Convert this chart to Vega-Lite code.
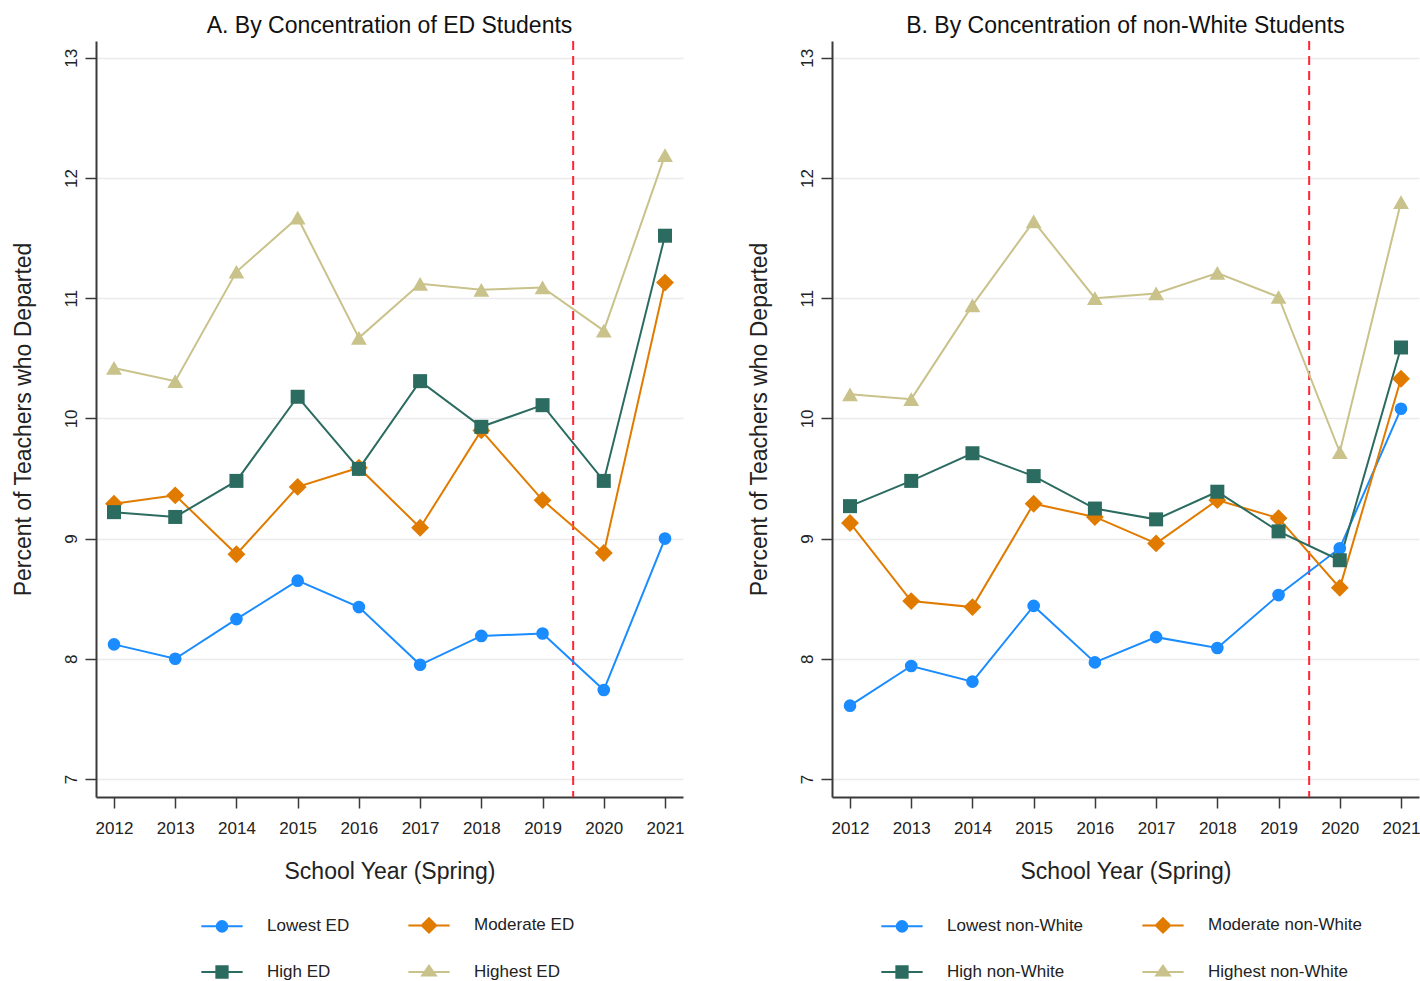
{
  "$schema": "https://vega.github.io/schema/vega-lite/v6.json",
  "background": "white",
  "padding": {"left": 12, "top": 15, "right": 0, "bottom": 0},
  "bounds": "flush",
  "spacing": 149,
  "resolve": {"scale": {"color": "independent", "x": "independent", "y": "independent"}, "legend": {"color": "independent"}},
  "config": {
    "view": {"stroke": null},
    "font": "Liberation Sans",
    "axis": {"domainColor": "#3a3a3a", "domainWidth": 2, "tickColor": "#3a3a3a", "tickWidth": 1.5, "tickSize": 11, "labelFont": "Liberation Sans", "labelFontSize": 17, "labelColor": "#222222", "titleFont": "Liberation Sans", "titleFontSize": 23, "titleFontWeight": "normal", "titleColor": "#222222", "gridColor": "#ebebeb", "gridWidth": 1.5},
    "title": {"font": "Liberation Sans", "fontSize": 23, "fontWeight": "normal", "color": "#111111", "offset": 2, "anchor": "middle"},
    "legend": {"labelFont": "Liberation Sans", "labelFontSize": 17, "labelColor": "#222222"}
  },
  "hconcat": [
    {
      "width": 587,
      "height": 756,
      "title": {"text": "A. By Concentration of ED Students"},
      "data": {"values": [
        {"group": "Lowest ED", "year": 2012, "pct": 8.12},
        {"group": "Lowest ED", "year": 2013, "pct": 8.00},
        {"group": "Lowest ED", "year": 2014, "pct": 8.33},
        {"group": "Lowest ED", "year": 2015, "pct": 8.65},
        {"group": "Lowest ED", "year": 2016, "pct": 8.43},
        {"group": "Lowest ED", "year": 2017, "pct": 7.95},
        {"group": "Lowest ED", "year": 2018, "pct": 8.19},
        {"group": "Lowest ED", "year": 2019, "pct": 8.21},
        {"group": "Lowest ED", "year": 2020, "pct": 7.74},
        {"group": "Lowest ED", "year": 2021, "pct": 9.00},
        {"group": "Moderate ED", "year": 2012, "pct": 9.29},
        {"group": "Moderate ED", "year": 2013, "pct": 9.36},
        {"group": "Moderate ED", "year": 2014, "pct": 8.87},
        {"group": "Moderate ED", "year": 2015, "pct": 9.43},
        {"group": "Moderate ED", "year": 2016, "pct": 9.59},
        {"group": "Moderate ED", "year": 2017, "pct": 9.09},
        {"group": "Moderate ED", "year": 2018, "pct": 9.90},
        {"group": "Moderate ED", "year": 2019, "pct": 9.32},
        {"group": "Moderate ED", "year": 2020, "pct": 8.88},
        {"group": "Moderate ED", "year": 2021, "pct": 11.13},
        {"group": "High ED", "year": 2012, "pct": 9.22},
        {"group": "High ED", "year": 2013, "pct": 9.18},
        {"group": "High ED", "year": 2014, "pct": 9.48},
        {"group": "High ED", "year": 2015, "pct": 10.18},
        {"group": "High ED", "year": 2016, "pct": 9.58},
        {"group": "High ED", "year": 2017, "pct": 10.31},
        {"group": "High ED", "year": 2018, "pct": 9.93},
        {"group": "High ED", "year": 2019, "pct": 10.11},
        {"group": "High ED", "year": 2020, "pct": 9.48},
        {"group": "High ED", "year": 2021, "pct": 11.52},
        {"group": "Highest ED", "year": 2012, "pct": 10.42},
        {"group": "Highest ED", "year": 2013, "pct": 10.31},
        {"group": "Highest ED", "year": 2014, "pct": 11.22},
        {"group": "Highest ED", "year": 2015, "pct": 11.67},
        {"group": "Highest ED", "year": 2016, "pct": 10.67},
        {"group": "Highest ED", "year": 2017, "pct": 11.12},
        {"group": "Highest ED", "year": 2018, "pct": 11.07},
        {"group": "Highest ED", "year": 2019, "pct": 11.09},
        {"group": "Highest ED", "year": 2020, "pct": 10.73},
        {"group": "Highest ED", "year": 2021, "pct": 12.19}
      ]},
      "encoding": {
        "x": {"field": "year", "type": "quantitative", "scale": {"domain": [2011.706, 2021.294], "nice": false, "zero": false}, "axis": {"values": [2012, 2013, 2014, 2015, 2016, 2017, 2018, 2019, 2020, 2021], "format": "d", "grid": false, "title": "School Year (Spring)", "labelPadding": 12, "titlePadding": 24, "labelFlush": false}},
        "y": {"field": "pct", "type": "quantitative", "scale": {"domain": [6.85, 13.14], "nice": false, "zero": false}, "axis": {"values": [7, 8, 9, 10, 11, 12, 13], "format": "d", "grid": true, "title": "Percent of Teachers who Departed", "labelAngle": 270, "labelAlign": "center", "labelBaseline": "bottom", "labelPadding": 5, "titlePadding": 27}}
      },
      "layer": [
        {
          "data": {"values": [{"cut": 2019.5}]},
          "mark": {"type": "rule", "color": "#ff2533", "strokeWidth": 2, "strokeDash": [9, 6]},
          "encoding": {"x": {"field": "cut", "type": "quantitative"}, "y": null}
        },
        {
          "mark": {"type": "line", "strokeWidth": 2},
          "encoding": {
            "color": {"field": "group", "type": "nominal", "scale": {"domain": ["Lowest ED", "Moderate ED", "High ED", "Highest ED"], "range": ["#1a8cff", "#e07b00", "#2b6b60", "#c9c28a"]},
              "legend": {"orient": "none", "legendX": 113, "legendY": 871, "direction": "horizontal", "columns": 2, "title": null, "symbolSize": 576, "labelOffset": 32, "rowPadding": 22, "columnPadding": 54, "symbolStrokeWidth": 2, "padding": 0,
                "encode": {"symbols": {"update": {
                  "shape": {"signal": "indexof(datum.value,'Lowest')===0 ? 'M-1.72,0H1.72M-0.44,0A0.44,0.44 0 1,1 0.44,0A0.44,0.44 0 1,1 -0.44,0Z' : indexof(datum.value,'Moderate')===0 ? 'M-1.72,0H1.72M0,-0.6L0.6,0L0,0.6L-0.6,0Z' : indexof(datum.value,'Highest')===0 ? 'M-1.72,0H1.72M0,-0.52L0.57,0.3L-0.57,0.3Z' : 'M-1.72,0H1.72M-0.47,-0.47H0.47V0.47H-0.47Z'"},
                  "fill": {"signal": "indexof(datum.value,'Lowest')===0 ? '#1a8cff' : indexof(datum.value,'Moderate')===0 ? '#e07b00' : indexof(datum.value,'Highest')===0 ? '#c9c28a' : '#2b6b60'"},
                  "stroke": {"signal": "indexof(datum.value,'Lowest')===0 ? '#1a8cff' : indexof(datum.value,'Moderate')===0 ? '#e07b00' : indexof(datum.value,'Highest')===0 ? '#c9c28a' : '#2b6b60'"},
                  "opacity": {"value": 1},
                  "strokeWidth": {"value": 2},
                  "size": {"value": 576}
                }}}
              }
            }
          }
        },
        {
          "transform": [{"filter": "datum.group === 'Lowest ED'"}],
          "mark": {"type": "point", "filled": true, "opacity": 1, "shape": "circle", "size": 160, "color": "#1a8cff"}
        },
        {
          "transform": [{"filter": "datum.group === 'Moderate ED'"}],
          "mark": {"type": "point", "filled": true, "opacity": 1, "shape": "diamond", "size": 320, "color": "#e07b00"}
        },
        {
          "transform": [{"filter": "datum.group === 'High ED'"}],
          "mark": {"type": "point", "filled": true, "opacity": 1, "shape": "square", "size": 196, "color": "#2b6b60"}
        },
        {
          "transform": [{"filter": "datum.group === 'Highest ED'"}],
          "mark": {"type": "point", "filled": true, "opacity": 1, "shape": "triangle-up", "size": 250, "color": "#c9c28a"}
        }
      ]
    },
    {
      "width": 587,
      "height": 756,
      "title": {"text": "B. By Concentration of non-White Students"},
      "data": {"values": [
        {"group": "Lowest non-White", "year": 2012, "pct": 7.61},
        {"group": "Lowest non-White", "year": 2013, "pct": 7.94},
        {"group": "Lowest non-White", "year": 2014, "pct": 7.81},
        {"group": "Lowest non-White", "year": 2015, "pct": 8.44},
        {"group": "Lowest non-White", "year": 2016, "pct": 7.97},
        {"group": "Lowest non-White", "year": 2017, "pct": 8.18},
        {"group": "Lowest non-White", "year": 2018, "pct": 8.09},
        {"group": "Lowest non-White", "year": 2019, "pct": 8.53},
        {"group": "Lowest non-White", "year": 2020, "pct": 8.92},
        {"group": "Lowest non-White", "year": 2021, "pct": 10.08},
        {"group": "Moderate non-White", "year": 2012, "pct": 9.13},
        {"group": "Moderate non-White", "year": 2013, "pct": 8.48},
        {"group": "Moderate non-White", "year": 2014, "pct": 8.43},
        {"group": "Moderate non-White", "year": 2015, "pct": 9.29},
        {"group": "Moderate non-White", "year": 2016, "pct": 9.18},
        {"group": "Moderate non-White", "year": 2017, "pct": 8.96},
        {"group": "Moderate non-White", "year": 2018, "pct": 9.32},
        {"group": "Moderate non-White", "year": 2019, "pct": 9.17},
        {"group": "Moderate non-White", "year": 2020, "pct": 8.59},
        {"group": "Moderate non-White", "year": 2021, "pct": 10.33},
        {"group": "High non-White", "year": 2012, "pct": 9.27},
        {"group": "High non-White", "year": 2013, "pct": 9.48},
        {"group": "High non-White", "year": 2014, "pct": 9.71},
        {"group": "High non-White", "year": 2015, "pct": 9.52},
        {"group": "High non-White", "year": 2016, "pct": 9.25},
        {"group": "High non-White", "year": 2017, "pct": 9.16},
        {"group": "High non-White", "year": 2018, "pct": 9.39},
        {"group": "High non-White", "year": 2019, "pct": 9.06},
        {"group": "High non-White", "year": 2020, "pct": 8.82},
        {"group": "High non-White", "year": 2021, "pct": 10.59},
        {"group": "Highest non-White", "year": 2012, "pct": 10.20},
        {"group": "Highest non-White", "year": 2013, "pct": 10.16},
        {"group": "Highest non-White", "year": 2014, "pct": 10.94},
        {"group": "Highest non-White", "year": 2015, "pct": 11.64},
        {"group": "Highest non-White", "year": 2016, "pct": 11.00},
        {"group": "Highest non-White", "year": 2017, "pct": 11.04},
        {"group": "Highest non-White", "year": 2018, "pct": 11.21},
        {"group": "Highest non-White", "year": 2019, "pct": 11.01},
        {"group": "Highest non-White", "year": 2020, "pct": 9.72},
        {"group": "Highest non-White", "year": 2021, "pct": 11.80}
      ]},
      "encoding": {
        "x": {"field": "year", "type": "quantitative", "scale": {"domain": [2011.706, 2021.294], "nice": false, "zero": false}, "axis": {"values": [2012, 2013, 2014, 2015, 2016, 2017, 2018, 2019, 2020, 2021], "format": "d", "grid": false, "title": "School Year (Spring)", "labelPadding": 12, "titlePadding": 24, "labelFlush": false}},
        "y": {"field": "pct", "type": "quantitative", "scale": {"domain": [6.85, 13.14], "nice": false, "zero": false}, "axis": {"values": [7, 8, 9, 10, 11, 12, 13], "format": "d", "grid": true, "title": "Percent of Teachers who Departed", "labelAngle": 270, "labelAlign": "center", "labelBaseline": "bottom", "labelPadding": 5, "titlePadding": 27}}
      },
      "layer": [
        {
          "data": {"values": [{"cut": 2019.5}]},
          "mark": {"type": "rule", "color": "#ff2533", "strokeWidth": 2, "strokeDash": [9, 6]},
          "encoding": {"x": {"field": "cut", "type": "quantitative"}, "y": null}
        },
        {
          "mark": {"type": "line", "strokeWidth": 2},
          "encoding": {
            "color": {"field": "group", "type": "nominal", "scale": {"domain": ["Lowest non-White", "Moderate non-White", "High non-White", "Highest non-White"], "range": ["#1a8cff", "#e07b00", "#2b6b60", "#c9c28a"]},
              "legend": {"orient": "none", "legendX": 57, "legendY": 871, "direction": "horizontal", "columns": 2, "title": null, "symbolSize": 576, "labelOffset": 32, "rowPadding": 22, "columnPadding": 54, "symbolStrokeWidth": 2, "padding": 0,
                "encode": {"symbols": {"update": {
                  "shape": {"signal": "indexof(datum.value,'Lowest')===0 ? 'M-1.72,0H1.72M-0.44,0A0.44,0.44 0 1,1 0.44,0A0.44,0.44 0 1,1 -0.44,0Z' : indexof(datum.value,'Moderate')===0 ? 'M-1.72,0H1.72M0,-0.6L0.6,0L0,0.6L-0.6,0Z' : indexof(datum.value,'Highest')===0 ? 'M-1.72,0H1.72M0,-0.52L0.57,0.3L-0.57,0.3Z' : 'M-1.72,0H1.72M-0.47,-0.47H0.47V0.47H-0.47Z'"},
                  "fill": {"signal": "indexof(datum.value,'Lowest')===0 ? '#1a8cff' : indexof(datum.value,'Moderate')===0 ? '#e07b00' : indexof(datum.value,'Highest')===0 ? '#c9c28a' : '#2b6b60'"},
                  "stroke": {"signal": "indexof(datum.value,'Lowest')===0 ? '#1a8cff' : indexof(datum.value,'Moderate')===0 ? '#e07b00' : indexof(datum.value,'Highest')===0 ? '#c9c28a' : '#2b6b60'"},
                  "opacity": {"value": 1},
                  "strokeWidth": {"value": 2},
                  "size": {"value": 576}
                }}}
              }
            }
          }
        },
        {
          "transform": [{"filter": "datum.group === 'Lowest non-White'"}],
          "mark": {"type": "point", "filled": true, "opacity": 1, "shape": "circle", "size": 160, "color": "#1a8cff"}
        },
        {
          "transform": [{"filter": "datum.group === 'Moderate non-White'"}],
          "mark": {"type": "point", "filled": true, "opacity": 1, "shape": "diamond", "size": 320, "color": "#e07b00"}
        },
        {
          "transform": [{"filter": "datum.group === 'High non-White'"}],
          "mark": {"type": "point", "filled": true, "opacity": 1, "shape": "square", "size": 196, "color": "#2b6b60"}
        },
        {
          "transform": [{"filter": "datum.group === 'Highest non-White'"}],
          "mark": {"type": "point", "filled": true, "opacity": 1, "shape": "triangle-up", "size": 250, "color": "#c9c28a"}
        }
      ]
    }
  ]
}
